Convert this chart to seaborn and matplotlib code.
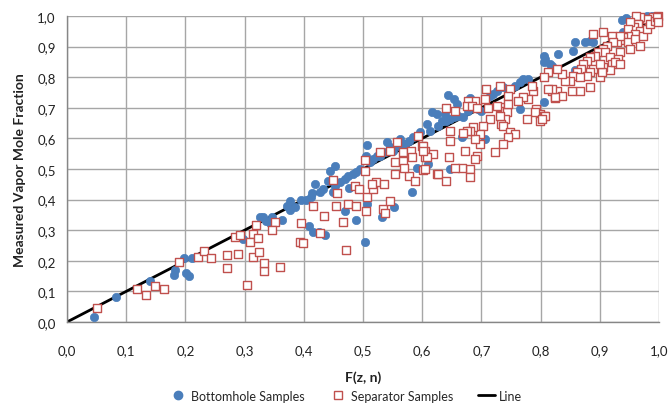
import matplotlib
matplotlib.use("Agg")
import matplotlib.pyplot as plt
import seaborn as sns
import pandas as pd
from matplotlib.ticker import FuncFormatter
from matplotlib.lines import Line2D

bottom_x = [0.046,0.083,0.141,0.180,0.183,0.198,0.201,0.206,0.212,0.298,0.326,
            0.331,0.337,0.347,0.343,0.364,0.371,0.377,0.385,0.377,0.395,0.403,0.412,0.414,0.419,0.427,0.432,
            0.408,0.416,0.426,0.436,0.441,0.444,0.453,0.450,0.453,0.461,0.470,0.475,0.484,0.489,0.495,
            0.476,0.470,0.488,0.503,0.506,0.506,0.505,0.512,0.517,0.523,0.532,0.552,0.529,0.538,0.540,
            0.546,0.551,0.557,0.563,0.565,0.571,0.577,0.585,0.596,0.608,0.613,0.583,0.591,0.610,
            0.805,0.816,0.806,0.765,0.771,0.779,0.757,0.765,0.745,0.737,0.726,0.720,0.715,0.706,0.700,
            0.695,0.667,0.681,0.678,0.669,0.661,0.653,0.647,0.641,0.639,0.633,0.627,0.625,0.616,0.644,
            0.653,0.658,0.647,
            0.937,0.945,0.962,0.979,0.988,0.940,0.875,0.883,0.889,0.858,0.855,0.830,0.805,0.807,0.819,0.858]
bottom_y = [0.017,0.082,0.135,0.155,0.171,0.209,0.159,0.149,0.208,0.271,0.343,
            0.342,0.331,0.342,0.324,0.334,0.378,0.396,0.375,0.367,0.400,0.399,0.408,0.422,0.451,0.426,0.435,
            0.315,0.293,0.293,0.284,0.462,0.494,0.511,0.426,0.445,0.457,0.467,0.478,0.484,0.489,0.500,
            0.438,0.364,0.334,0.260,0.386,0.579,0.543,0.522,0.533,0.543,0.344,0.375,0.541,0.555,0.587,
            0.571,0.560,0.578,0.598,0.571,0.582,0.592,0.604,0.620,0.647,0.625,0.424,0.503,0.516,
            0.849,0.843,0.718,0.696,0.794,0.794,0.772,0.783,0.761,0.767,0.756,0.745,0.740,0.598,0.690,
            0.696,0.606,0.731,0.690,0.669,0.674,0.669,0.663,0.658,0.680,0.658,0.641,0.680,0.685,0.742,
            0.729,0.712,0.500,
            0.988,0.992,1.000,1.000,1.000,0.947,0.914,0.919,0.914,0.914,0.887,0.876,0.870,0.859,0.838,0.822]

sep_x = [0.051,0.119,0.133,0.149,0.164,0.189,0.221,0.232,0.244,0.270,0.270,0.289,0.304,0.283,0.292,
         0.314,0.320,0.315,0.309,0.323,
         0.332,0.333,0.325,0.360,0.351,0.346,0.395,0.394,0.399,0.427,0.416,0.434,0.450,0.456,0.454,
         0.467,0.471,0.474,0.489,0.486,0.494,0.505,0.506,0.503,0.503,0.517,0.522,0.516,0.535,0.534,
         0.537,0.546,0.529,0.546,0.557,0.568,0.554,0.568,0.581,0.582,0.593,0.599,0.605,0.605,0.602,
         0.554,0.577,0.588,0.570,0.625,
         0.813,0.805,0.819,0.827,0.824,0.788,0.785,0.779,0.771,0.793,0.799,0.805,0.791,0.777,0.799,
         0.762,0.748,0.731,0.745,0.731,0.740,0.743,0.740,0.734,0.737,0.745,0.748,0.757,0.745,0.737,
         0.723,0.707,0.706,0.712,0.715,0.726,0.731,0.703,0.698,0.698,0.689,0.686,0.689,0.692,0.689,
         0.681,0.675,0.672,0.681,0.667,0.655,0.681,0.678,0.675,0.684,0.692,0.641,0.655,0.647,0.647,
         0.646,0.627,0.641,0.619,0.602,0.605,0.608,0.602,0.669,
         0.999,0.990,0.979,0.968,0.962,0.965,0.957,0.951,0.948,0.968,0.959,0.948,0.940,0.934,0.929,
         0.889,0.906,0.920,0.934,0.923,0.912,0.906,0.897,0.892,0.883,0.878,0.872,0.869,0.861,0.855,
         0.850,0.841,0.836,0.827,0.909,0.917,0.920,0.917,0.900,0.883,0.867,0.853,0.836,0.824,0.819,
         0.813,0.807,0.802,0.934,0.931,0.926,0.906,0.903,0.889,0.883,0.878,0.867,0.934,0.900,0.948,
         0.951,0.959,0.968,0.973,0.979,0.985,0.993,0.996,0.999]
sep_y = [0.045,0.107,0.089,0.118,0.109,0.195,0.212,0.231,0.208,0.219,0.176,0.223,0.121,0.278,0.285,
         0.212,0.318,0.288,0.260,0.273,
         0.168,0.193,0.228,0.181,0.326,0.301,0.324,0.263,0.257,0.291,0.378,0.345,0.464,0.422,0.380,
         0.328,0.235,0.386,0.378,0.445,0.435,0.364,0.407,0.494,0.530,0.435,0.458,0.451,0.451,0.369,
         0.355,0.396,0.555,0.560,0.587,0.555,0.522,0.527,0.560,0.538,0.609,0.576,0.560,0.538,0.498,
         0.484,0.476,0.462,0.503,0.484,
         0.816,0.800,0.756,0.756,0.731,0.756,0.772,0.729,0.734,0.696,0.680,0.674,0.685,0.663,0.658,
         0.723,0.761,0.772,0.740,0.702,0.690,0.685,0.663,0.647,0.641,0.712,0.620,0.614,0.604,0.582,
         0.555,0.761,0.729,0.699,0.663,0.707,0.674,0.641,0.614,0.582,0.723,0.636,0.598,0.543,0.533,
         0.625,0.625,0.560,0.500,0.502,0.502,0.473,0.723,0.707,0.707,0.699,0.699,0.690,0.625,0.592,
         0.538,0.484,0.462,0.549,0.574,0.500,0.538,0.560,0.618,
         1.000,0.996,0.990,0.996,1.000,0.974,0.963,0.979,0.958,0.952,0.941,0.936,0.931,0.920,0.915,
         0.941,0.947,0.936,0.936,0.914,0.903,0.892,0.881,0.870,0.865,0.854,0.843,0.827,0.816,0.805,
         0.789,0.789,0.810,0.827,0.881,0.865,0.843,0.822,0.800,0.767,0.756,0.756,0.740,0.734,0.761,
         0.761,0.674,0.663,0.881,0.859,0.849,0.832,0.816,0.827,0.816,0.805,0.800,0.843,0.843,0.914,
         0.892,0.925,0.903,0.936,0.958,0.974,0.985,0.996,0.979]

line_x = [0.0, 1.0]
line_y = [0.0, 1.0]

tick_vals = [0.0,0.1,0.2,0.3,0.4,0.5,0.6,0.7,0.8,0.9,1.0]

sns.set_style("white")
plt.rcParams['font.family'] = ['Lato', 'DejaVu Sans']

blue = "#4A7EBB"
red = "#C0504D"
gridc = "#A6A6A6"

fig = plt.figure(figsize=(6.69, 4.10), dpi=100)
ax = fig.add_axes([0.1001, 0.2122, 0.8849, 0.7463])

df_b = pd.DataFrame({"x": bottom_x, "y": bottom_y})
df_s = pd.DataFrame({"x": sep_x, "y": sep_y})
df_l = pd.DataFrame({"x": line_x, "y": line_y})

sns.lineplot(data=df_l, x="x", y="y", ax=ax, color="black", linewidth=2, zorder=2)
sns.scatterplot(data=df_b, x="x", y="y", ax=ax, color=blue, s=36, edgecolor=blue,
                linewidth=0.5, marker="o", zorder=3, clip_on=False)
sns.scatterplot(data=df_s, x="x", y="y", ax=ax, facecolor="white", edgecolor=red, s=40,
                linewidth=1.0, marker="s", zorder=4, clip_on=False)

ax.set_xlim(0, 1)
ax.set_ylim(0, 1)
ax.set_xticks(tick_vals)
ax.set_yticks(tick_vals)
fmt = FuncFormatter(lambda v, p: f"{v:.1f}".replace(".", ","))
ax.xaxis.set_major_formatter(fmt)
ax.yaxis.set_major_formatter(fmt)
ax.grid(True, color=gridc, linewidth=1.0, zorder=0)
ax.set_axisbelow(True)
for s in ["top", "right"]:
    ax.spines[s].set_visible(False)
for s in ["left", "bottom"]:
    ax.spines[s].set_color("#868686")
    ax.spines[s].set_linewidth(1.0)
ax.tick_params(axis="both", which="both", length=4, color="#868686", labelsize=9.5,
               labelcolor="#222222", direction="out", pad=4)
ax.tick_params(axis="x", pad=12)

ax.set_xlabel("F(z, n)", fontsize=10, fontweight="bold", labelpad=10, color="#222222")
ax.set_ylabel("Measured Vapor Mole Fraction", fontsize=10, fontweight="bold", labelpad=8,
              color="#222222")

handles = [
    Line2D([], [], marker="o", linestyle="none", color=blue, markersize=6),
    Line2D([], [], marker="s", linestyle="none", markerfacecolor="white",
           markeredgecolor=red, markersize=6),
    Line2D([], [], color="black", linewidth=2),
]
fig.legend(handles, ["Bottomhole Samples", "Separator Samples", "Line"],
           loc="lower center", bbox_to_anchor=(0.517, -0.01), ncol=3, frameon=False,
           fontsize=9, handlelength=1.4, handletextpad=0.3, columnspacing=2.0)

fig.savefig("out.png", dpi=100)
